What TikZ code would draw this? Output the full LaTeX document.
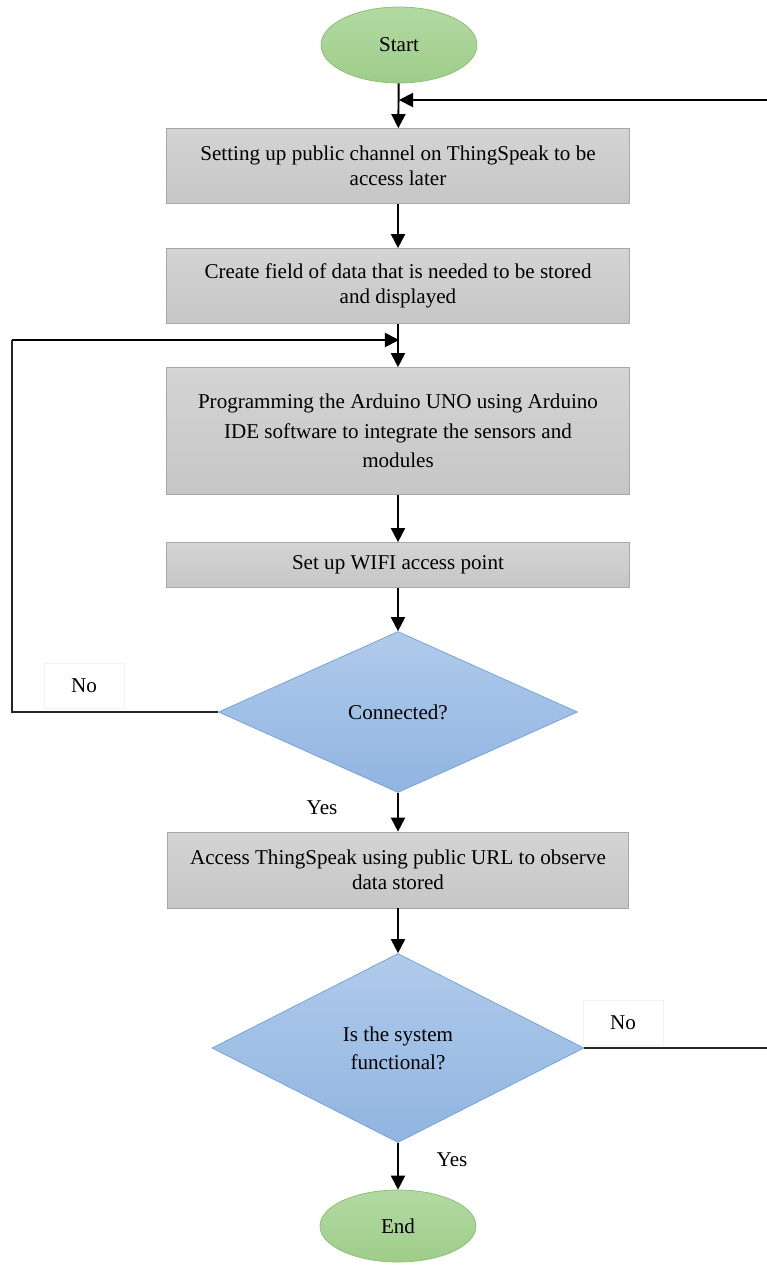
\documentclass[tikz,border=0pt]{standalone}
\usepackage{fontspec}
\setmainfont{Liberation Serif}
\usetikzlibrary{shapes.geometric,arrows.meta}
\definecolor{greentop}{HTML}{B3D9A3}
\definecolor{greenbot}{HTML}{9ECD89}
\definecolor{greenline}{HTML}{86BF6C}
\definecolor{graytop}{HTML}{D4D4D4}
\definecolor{graybot}{HTML}{C6C6C6}
\definecolor{grayline}{HTML}{A8A8A8}
\definecolor{bluetop}{HTML}{B0CAEA}
\definecolor{bluebot}{HTML}{90B5E1}
\definecolor{blueline}{HTML}{6FA0DC}
\tikzset{
  startstop/.style={ellipse, draw=greenline, top color=greentop, bottom color=greenbot, minimum width=3.12cm, minimum height=1.52cm, font=\fontsize{12}{14}\selectfont},
  process/.style={rectangle, draw=grayline, top color=graytop, bottom color=graybot, minimum width=9.26cm, minimum height=1.5cm, align=center, font=\fontsize{12}{14.5}\selectfont},
  decision/.style={diamond, draw=blueline, top color=bluetop, bottom color=bluebot, inner sep=0pt, align=center, font=\fontsize{12}{16}\selectfont},
  answer/.style={draw=black!5, fill=white, minimum width=1.6cm, minimum height=0.9cm, font=\fontsize{12}{14}\selectfont},
  arr/.style={-{Triangle[length=8pt,width=8pt]}, line width=1.1pt},
  loop/.style={line width=0.8pt, black!85}
}
\begin{document}
\begin{tikzpicture}[x=0.02cm, y=-0.02cm]
            \useasboundingbox (0,0) rectangle (767,1265);

            % Define nodes
            \node[startstop] (start) at (399,45) {Start};
            \node[process] (channel) at (398,166) {Setting up public channel on ThingSpeak to be\\access later};
            \node[process] (field) at (398,286) {Create field of data that is needed to be stored\\and displayed};
            \node[process, minimum height=2.54cm, font=\fontsize{12}{16.7}\selectfont] (program) at (398,431) {Programming the Arduino UNO using Arduino\\IDE software to integrate the sensors and\\modules};
            \node[process, minimum height=0.9cm] (wifi) at (398,565) {Set up WIFI access point};
            \node[decision, minimum width=7.18cm, minimum height=3.22cm] (conn) at (398,712) {Connected?};
            \node[process, minimum width=9.22cm, minimum height=1.52cm] (access) at (398,870) {Access ThingSpeak using public URL to observe\\data stored};
            \node[decision, minimum width=7.44cm, minimum height=3.78cm] (sys) at (398,1048) {Is the system\\functional?};
            \node[startstop, minimum height=1.44cm] (end) at (398,1226) {End};

            % Define loop points
            \coordinate (topin) at (399,100);
            \coordinate (midin) at (399,340);
            \coordinate (lft) at (12,340);
            \coordinate (rgt) at (769,100);

            % Draw arrows
            \draw[arr] (start) -- (channel);
            \draw[arr] (channel) -- (field);
            \draw[arr] (field) -- (program);
            \draw[arr] (program) -- (wifi);
            \draw[arr] (wifi) -- (conn);
            \draw[arr] (conn) -- (access);
            \draw[arr] (access) -- (sys);
            \draw[arr] (sys) -- (end);

            % Draw loops back
            \draw[loop] (conn.west) -- (lft |- conn.west) -- (lft);
            \draw[arr] (lft) -- (midin);
            \draw[loop] (sys.east) -- (rgt |- sys.east) -- (rgt);
            \draw[arr] (rgt) -- (topin);

            % Draw answers
            \node[answer] (no1) at (84,686) {No};
            \node[answer, draw=none, fill=none] (yes1) at (322,808) {Yes};
            \node[answer] (no2) at (623,1023) {No};
            \node[answer, draw=none, fill=none] (yes2) at (452,1160) {Yes};
        \end{tikzpicture}
\end{document}
